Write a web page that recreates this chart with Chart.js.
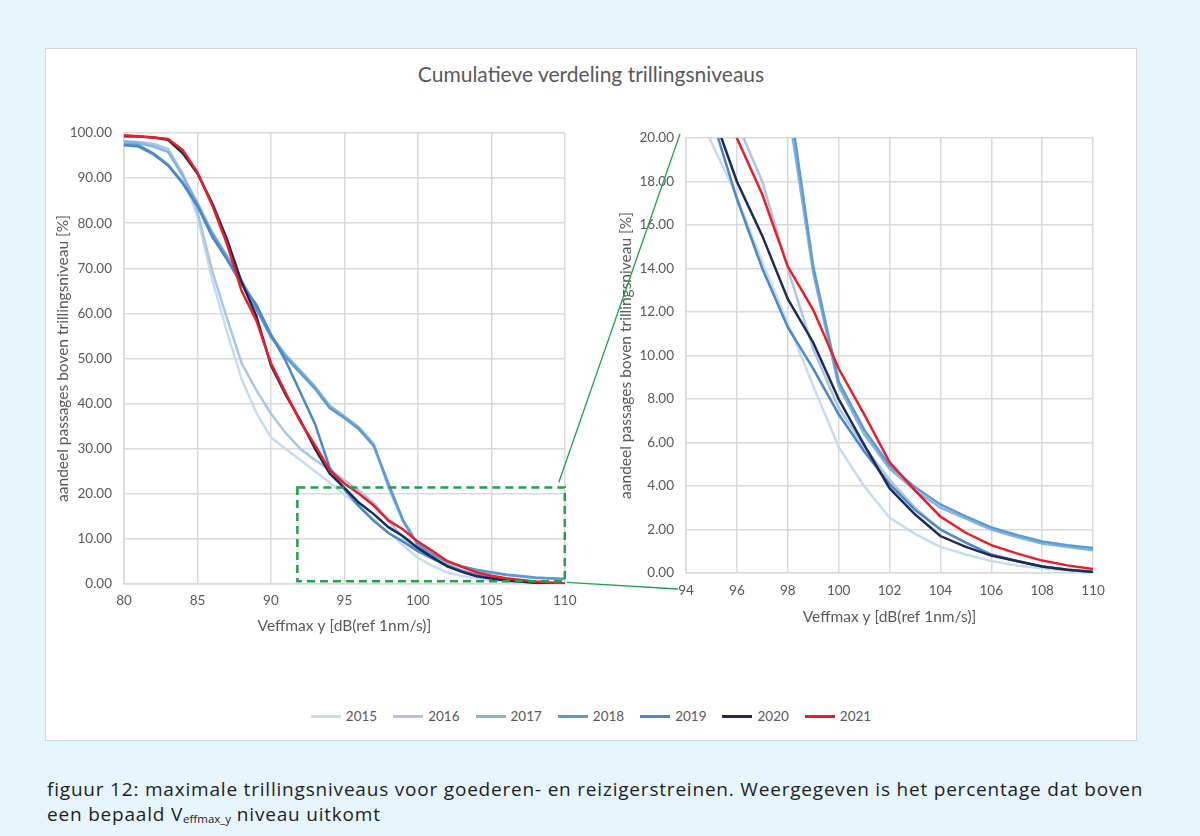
<!DOCTYPE html>
<html>
<head>
<meta charset="utf-8">
<script src="https://cdn.jsdelivr.net/npm/chart.js@4.4.1/dist/chart.umd.min.js"></script>
<style>
  html, body { margin:0; padding:0; }
  body { width:1200px; height:836px; background:#e6f4fc; position:relative; overflow:hidden; font-family: Lato, "Open Sans", sans-serif; }
  #panel { position:absolute; left:45px; top:48px; width:1092px; height:693px; background:#fff; border:1px solid #d6d6d6; box-sizing:border-box; }
  #title { position:absolute; left:45px; top:61px; width:1092px; text-align:center; font-size:21px; color:#595959; }
  canvas.c { position:absolute; }
  #legend { position:absolute; left:45px; top:708px; width:1092px; display:flex; justify-content:center; font-size:13.5px; color:#595959; }
  .li { display:flex; align-items:center; margin:0 8px; }
  .sw { width:30px; height:3px; margin-right:5px; }
  #caption { position:absolute; left:47px; top:777px; width:1150px; font-family:"Open Sans",sans-serif; font-size:19px; line-height:25px; color:#1e1e1e; letter-spacing:0.8px; white-space:nowrap; }
  #caption sub { font-size:11.5px; vertical-align:-2px; letter-spacing:0; }
  #overlay { position:absolute; left:0; top:0; pointer-events:none; z-index:5; }
</style>
</head>
<body>
<div id="panel"></div>
<div id="title">Cumulatieve verdeling trillingsniveaus</div>
<canvas id="c1" class="c" width="540" height="600" style="left:45px;top:48px;"></canvas>
<canvas id="c2" class="c" width="540" height="600" style="left:590px;top:48px;"></canvas>
<canvas id="overlay" width="1200" height="836"></canvas>
<div id="legend"></div>
<div id="caption">figuur 12: maximale trillingsniveaus voor goederen- en reizigerstreinen. Weergegeven is het percentage dat boven<br>een bepaald V<sub>effmax_y</sub> niveau uitkomt</div>
<script>
// ---- data ----
const xValues = [80,81,82,83,84,85,86,87,88,89,90,91,92,93,94,95,96,97,98,99,100,101,102,103,104,105,106,107,108,109,110];
const seriesNames = ['2015','2016','2017','2018','2019','2020','2021'];
const s2015 = [98.0,97.8,97.4,96.0,90.5,81.5,67.5,56.0,45.5,38.0,32.5,30.0,27.5,25.0,22.5,19.8,17.3,14.3,11.5,8.6,5.8,4.0,2.55,1.8,1.2,0.85,0.55,0.35,0.22,0.12,0.05];
const s2016 = [98.2,98.0,97.6,96.5,91.0,82.5,69.5,59.0,49.0,43.0,37.8,33.5,30.0,27.5,25.3,23.0,20.7,18.0,14.0,10.3,7.6,5.8,4.3,3.0,2.0,1.4,0.85,0.55,0.3,0.15,0.06];
const s2017 = [98.0,97.8,97.0,95.8,90.5,84.5,78.0,72.8,67.3,61.5,55.2,50.8,47.3,43.8,39.5,37.2,34.7,31.0,21.5,13.8,8.6,6.4,4.8,3.8,3.0,2.5,2.0,1.65,1.35,1.2,1.05];
const s2018 = [97.5,97.3,95.5,93.0,89.0,84.0,77.5,72.3,66.8,61.0,54.8,50.3,46.8,43.3,39.0,36.8,34.3,30.6,22.3,14.1,8.8,6.6,4.95,3.95,3.15,2.6,2.1,1.75,1.45,1.28,1.15];
const s2019 = [97.3,97.0,95.3,92.8,88.8,83.8,77.0,72.0,66.5,62.0,55.3,49.5,42.5,35.5,25.8,21.0,17.2,14.0,11.3,9.4,7.3,5.6,4.1,2.9,2.0,1.4,0.85,0.55,0.3,0.15,0.05];
const s2020 = [99.3,99.2,99.0,98.5,95.5,91.0,84.5,76.5,67.0,59.5,48.5,42.0,36.3,30.0,24.5,21.3,18.0,15.5,12.6,10.6,8.0,5.9,3.9,2.7,1.7,1.2,0.8,0.55,0.3,0.15,0.05];
const s2021 = [99.5,99.3,99.0,98.7,96.2,91.3,84.0,75.5,65.0,58.5,49.0,42.4,36.0,30.8,25.3,22.3,20.0,17.4,14.1,12.1,9.4,7.3,5.1,3.8,2.6,1.85,1.28,0.9,0.57,0.35,0.18];
const seriesValues = [s2015,s2016,s2017,s2018,s2019,s2020,s2021];
const seriesColors = ['#c8dcf0','#a9c6e7','#86b2df','#5b9bd5','#4a87c8','#1c2a56','#ee1c25'];
const leftYTicks = {min:0, max:100, step:10};
const leftXTicks = {min:80, max:110, step:5};
const rightYTicks = {min:0, max:20, step:2};
const rightXTicks = {min:94, max:110, step:2};
const zoomBoxX = [91.8, 110];
const zoomBoxY = [0.6, 21.4];
const xTitle = 'Veffmax y [dB(ref 1nm/s)]';
const yTitle = 'aandeel passages boven trillingsniveau [%]';

// ---- build ----
Chart.defaults.font.family = 'Lato, "Open Sans", sans-serif';
Chart.defaults.color = '#595959';

function datasets() {
  return seriesNames.map((n, i) => ({
    label: n,
    data: xValues.map((x, k) => ({x: x, y: seriesValues[i][k]})),
    borderColor: seriesColors[i],
    backgroundColor: seriesColors[i],
    borderWidth: 2.5,
    pointRadius: 0,
    tension: 0,
    fill: false,
    order: seriesNames.length - 1 - i
  }));
}

function makeOptions(xt, yt, cfg) {
  return {
    responsive: false,
    animation: false,
    events: [],
    layout: { padding: cfg.padding },
    plugins: { legend: {display:false}, tooltip: {enabled:false} },
    scales: {
      x: {
        type: 'linear', min: xt.min, max: xt.max,
        ticks: { stepSize: xt.step, padding: cfg.xTickPad, font:{size:13.5}, color:'#595959', maxRotation:0, autoSkip:false, callback: v => v },
        grid: { color:'#d9d9d9', lineWidth:1.5, drawTicks:false },
        border: { color:'#d9d9d9', width:1.5 },
        title: { display:true, text:xTitle, font:{size:15.5}, color:'#595959', padding:{top:0,bottom:0} },
        afterFit: s => { s.height = cfg.xH; }
      },
      y: {
        type: 'linear', min: yt.min, max: yt.max,
        ticks: { stepSize: yt.step, padding: 12, font:{size:13.5}, color:'#595959', callback: v => Number(v).toFixed(2) },
        grid: { color:'#d9d9d9', lineWidth:1.5, drawTicks:false },
        border: { color:'#d9d9d9', width:1.5 },
        title: { display:true, text:yTitle, font:{size:15.5}, color:'#595959', padding:{top:cfg.yTitlePad,bottom:0} },
        afterFit: s => { s.width = cfg.yW; }
      }
    }
  };
}

const chart1 = new Chart(document.getElementById('c1'), {
  type: 'line',
  data: { datasets: datasets() },
  options: makeOptions(leftXTicks, leftYTicks, {padding:{left:0,top:85,right:17,bottom:13}, xH:51, yW:79, xTickPad:8.5, yTitlePad:8.7})
});

const overlayPlugin = {
  id: 'zoomOverlay',
  afterDraw(chart2) { drawOverlay(chart2); }
};

const chart2 = new Chart(document.getElementById('c2'), {
  type: 'line',
  data: { datasets: datasets() },
  options: makeOptions(rightXTicks, rightYTicks, {padding:{left:0,top:90,right:37,bottom:22}, xH:53, yW:96, xTickPad:9.5, yTitlePad:26.7}),
  plugins: [overlayPlugin]
});

function drawOverlay(c2) {
  const cv = document.getElementById('overlay');
  const ctx = cv.getContext('2d');
  ctx.clearRect(0,0,cv.width,cv.height);
  const o1 = {x:45, y:48}, o2 = {x:590, y:48};
  const sx = chart1.scales.x, sy = chart1.scales.y;
  const l = o1.x + sx.getPixelForValue(zoomBoxX[0]);
  const r = o1.x + sx.getPixelForValue(zoomBoxX[1]);
  const t = o1.y + sy.getPixelForValue(zoomBoxY[1]);
  const b = o1.y + sy.getPixelForValue(zoomBoxY[0]);
  const a2 = c2.chartArea;
  // connectors
  ctx.strokeStyle = '#1fa34a';
  ctx.lineWidth = 1.3;
  ctx.setLineDash([]);
  ctx.beginPath();
  ctx.moveTo(r - 6, t - 5);
  ctx.lineTo(o2.x + a2.left - 6, o2.y + a2.top - 4);
  ctx.moveTo(r + 2, b + 1);
  ctx.lineTo(o2.x + a2.left - 8, o2.y + a2.bottom + 16);
  ctx.stroke();
  // dashed box
  ctx.strokeStyle = '#22a04b';
  ctx.lineWidth = 2.5;
  ctx.setLineDash([8,5]);
  ctx.strokeRect(l, t, r - l, b - t);
}
drawOverlay(chart2);

// legend
const lg = document.getElementById('legend');
seriesNames.forEach((n, i) => {
  const it = document.createElement('div'); it.className = 'li';
  const sw = document.createElement('span'); sw.className = 'sw'; sw.style.background = seriesColors[i];
  const tx = document.createElement('span'); tx.textContent = n;
  it.appendChild(sw); it.appendChild(tx); lg.appendChild(it);
});
</script>
</body>
</html>
